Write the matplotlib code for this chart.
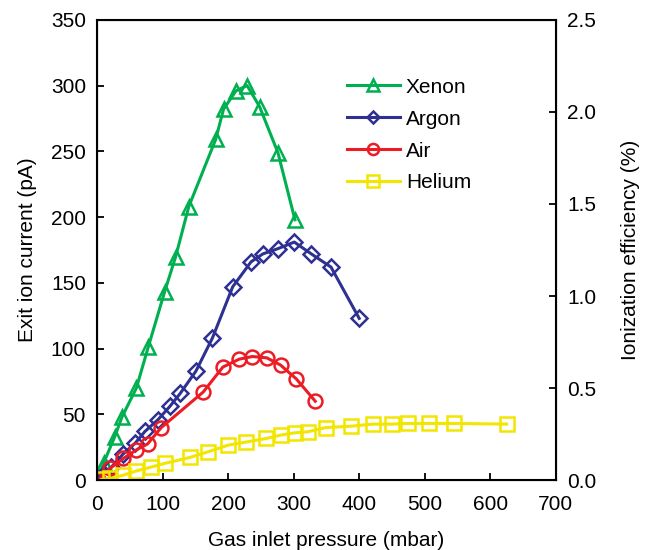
import matplotlib
matplotlib.use("Agg")
import matplotlib.pyplot as plt

plt.rcParams['font.family'] = ['Liberation Sans', 'DejaVu Sans']

# data (pressure in mbar, current in pA)
xenon_p = [2, 10, 27, 38, 60, 78, 103, 120, 140, 181, 193, 212, 229, 248, 276, 302]
xenon_i = [1, 13, 33, 48, 70, 101, 143, 170, 208, 259, 282, 296, 300, 284, 249, 198]

argon_p = [2, 10, 22, 40, 58, 73, 93, 111, 127, 151, 176, 207, 235, 253, 276, 301, 327, 357, 400]
argon_i = [1, 5, 10, 20, 28, 37, 46, 56, 66, 83, 108, 147, 166, 172, 176, 181, 172, 162, 123]

air_p = [2, 20, 40, 60, 77, 98, 162, 192, 217, 237, 259, 280, 304, 333]
air_i = [0, 9, 16.5, 23, 27.5, 40, 67, 86, 92, 94, 93, 87.5, 77, 60]

helium_p = [7, 20, 40, 60, 83, 103, 142, 169, 200, 228, 258, 280, 302, 322, 349, 387,
            421, 450, 474, 506, 545, 625]
helium_i = [0.5, 1.3, 3.8, 7, 10, 12.7, 17.3, 21.5, 26.6, 29, 31.7, 34.2, 36, 36.8, 40, 41,
            42.6, 42.6, 43.1, 43.1, 43.1, 42.6]

series = [
    ("Xenon", xenon_p, xenon_i, "#00B050", "^", 10),
    ("Argon", argon_p, argon_i, "#2E3192", "D", 8),
    ("Air", air_p, air_i, "#ED1C24", "o", 10),
    ("Helium", helium_p, helium_i, "#F2E600", "s", 10),
]

fs = 15

fig = plt.figure(figsize=(6.47, 5.5), dpi=100)
ax = fig.add_axes([0.150, 0.127, 0.709, 0.837])

for name, p, i, col, mk, ms in series:
    ax.plot(p, i, color=col, lw=2.2, marker=mk, ms=ms, mfc="none",
            mec=col, mew=1.8, label=name)

ax.set_xlim(0, 700)
ax.set_ylim(0, 350)
ax.set_xticks(range(0, 701, 100))
ax.set_yticks(range(0, 351, 50))
ax.tick_params(direction="in", length=5, width=1.3, labelsize=fs, pad=8)
ax.tick_params(axis="x", pad=11)
for s in ax.spines.values():
    s.set_linewidth(1.5)
ax.set_xlabel("Gas inlet pressure (mbar)", fontsize=fs, labelpad=12)
ax.set_ylabel("Exit ion current (pA)", fontsize=fs, labelpad=10)

ax2 = ax.twinx()
ax2.set_ylim(0, 2.5)
ax2.set_yticks([0.0, 0.5, 1.0, 1.5, 2.0, 2.5])
ax2.set_yticklabels(["0.0", "0.5", "1.0", "1.5", "2.0", "2.5"])
ax2.tick_params(direction="in", length=5, width=1.3, labelsize=fs, pad=8)
ax2.set_ylabel("Ionization efficiency (%)", fontsize=fs, labelpad=18)

ax.legend(loc="upper left", bbox_to_anchor=(0.505, 0.915), frameon=False,
          fontsize=fs, handlelength=2.5, numpoints=1, labelspacing=0.62,
          handletextpad=0.3, markerscale=0.8)

fig.savefig("out.png", dpi=100)
